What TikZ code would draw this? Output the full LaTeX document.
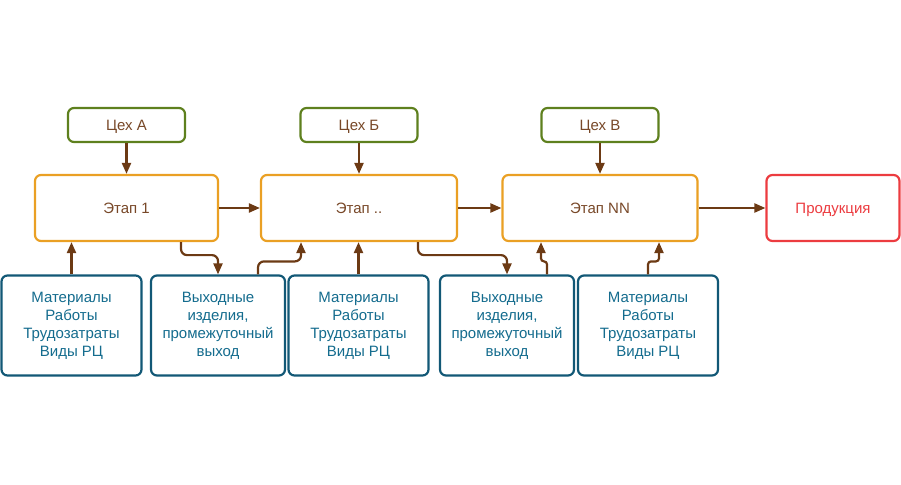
\documentclass[tikz,border=0pt]{standalone}
\usepackage{fontspec}
\setmainfont{Liberation Sans}
\usetikzlibrary{arrows.meta}
\definecolor{cgreen}{RGB}{94,128,30}
\definecolor{cbrown}{RGB}{120,72,40}
\definecolor{corange}{RGB}{234,160,36}
\definecolor{cblue}{RGB}{18,88,118}
\definecolor{cbluetext}{RGB}{20,108,142}
\definecolor{cred}{RGB}{236,60,64}
\definecolor{carrow}{RGB}{108,58,20}
\tikzset{
  basebox/.style={draw, line width=2.2pt, rounded corners=6pt, fill=white, align=center,
    font=\fontsize{15}{18}\selectfont, inner sep=0pt},
  onelinebox/.style={basebox, text height=11pt, text depth=0pt},
  shopbox/.style={onelinebox, draw=cgreen, text=cbrown, minimum width=117pt, minimum height=34pt},
  stagebox/.style={onelinebox, draw=corange, text=cbrown, minimum height=66pt},
  prodbox/.style={onelinebox, draw=cred, text=cred, minimum width=133pt, minimum height=66pt},
  resbox/.style={basebox, draw=cblue, text=cbluetext, minimum height=100pt},
  conn/.style={draw=carrow, line width=2.2pt, -{Triangle[length=11pt,width=9pt]}},
}
\begin{document}
\begin{tikzpicture}[x=1pt,y=-1pt]
\useasboundingbox (0,0) rectangle (901,484);
\node[shopbox] (cA) at (126.5,125) {Цех А};
\node[shopbox] (cB) at (359,125) {Цех Б};
\node[shopbox] (cV) at (600,125) {Цех В};
\node[stagebox, minimum width=183pt] (e1) at (126.5,208) {Этап 1};
\node[stagebox, minimum width=196pt] (e2) at (359,208) {Этап ..};
\node[stagebox, minimum width=195pt] (e3) at (600,208) {Этап NN};
\node[prodbox] (prod) at (833,208) {Продукция};
\node[resbox, minimum width=140pt] (b1) at (71.5,325.5) {Материалы\\Работы\\Трудозатраты\\Виды РЦ};
\node[resbox, minimum width=134pt] (b2) at (218,325.5) {Выходные\\изделия,\\промежуточный\\выход};
\node[resbox, minimum width=140pt] (b3) at (358.5,325.5) {Материалы\\Работы\\Трудозатраты\\Виды РЦ};
\node[resbox, minimum width=134pt] (b4) at (507,325.5) {Выходные\\изделия,\\промежуточный\\выход};
\node[resbox, minimum width=140pt] (b5) at (648,325.5) {Материалы\\Работы\\Трудозатраты\\Виды РЦ};
% top connectors
\draw[conn] (cA.south) -- (e1.north);
\draw[conn] (cB.south) -- (e2.north);
\draw[conn] (cV.south) -- (e3.north);
% stage chain
\draw[conn] (e1.east) -- (e2.west);
\draw[conn] (e2.east) -- (e3.west);
\draw[conn] (e3.east) -- (prod.west);
% resources
\draw[conn] (b1.north) -- (b1.north |- e1.south);
\draw[conn] (b3.north) -- (b3.north |- e2.south);
\draw[conn, rounded corners=6pt] ([xshift=54.5pt]e1.south) -- ++(0,13) -| (b2.north);
\draw[conn, rounded corners=6pt] ([xshift=40pt]b2.north) -- ++(0,-13) -| ([xshift=-58pt]e2.south);
\draw[conn, rounded corners=6pt] ([xshift=59pt]e2.south) -- ++(0,13) -| (b4.north);
\draw[conn, rounded corners=3pt] ([xshift=40pt]b4.north) -- ++(0,-13) -| ([xshift=-59pt]e3.south);
\draw[conn, rounded corners=3pt] (b5.north) -- ++(0,-13) -| ([xshift=59pt]e3.south);
\end{tikzpicture}
\end{document}
